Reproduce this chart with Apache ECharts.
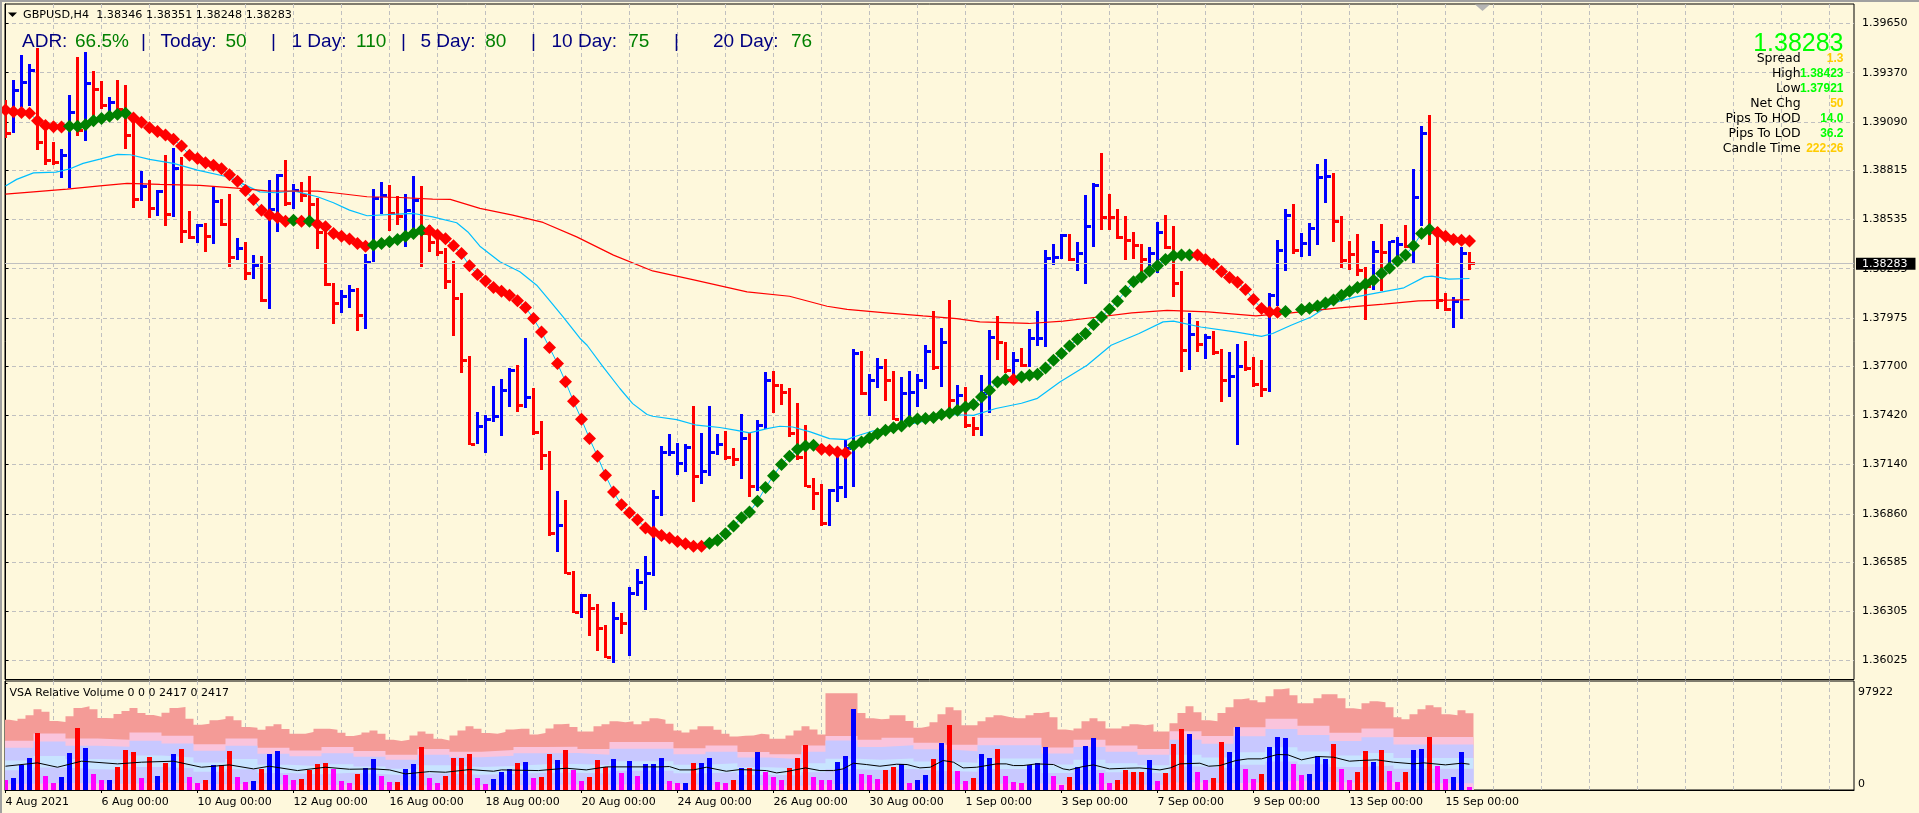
<!DOCTYPE html>
<html>
<head>
<meta charset="utf-8">
<title>GBPUSD,H4</title>
<style>html,body{margin:0;padding:0;background:#FEF8DC}#c{width:1919px;height:813px}</style>
<script src="https://cdn.jsdelivr.net/npm/echarts@6/dist/echarts.min.js"></script>
</head>
<body>
<div id="c"></div>
<script>
const highs = [1.39214,1.39328,1.39471,1.39420,1.39509,1.39084,1.38977,1.38935,1.39243,1.39461,
1.39490,1.39380,1.39323,1.39230,1.39328,1.39300,1.39139,1.38810,1.38759,1.38702,
1.38901,1.38943,1.38892,1.38582,1.38508,1.38516,1.38721,1.38651,1.38679,1.38427,
1.38404,1.38332,1.38326,1.38759,1.38793,1.38873,1.38736,1.38746,1.38782,1.38655,
1.38474,1.38172,1.38132,1.38161,1.38144,1.38337,1.38708,1.38748,1.38730,1.38668,
1.38679,1.38782,1.38725,1.38503,1.38417,1.38370,1.38298,1.38115,1.37757,1.37438,
1.37425,1.37586,1.37626,1.37688,1.37705,1.37859,1.37573,1.37386,1.37216,1.36988,
1.36937,1.36532,1.36401,1.36405,1.36344,1.36225,1.36357,1.36293,1.36443,1.36544,
1.36618,1.36993,1.37244,1.37316,1.37263,1.37255,1.37472,1.37320,1.37472,1.37312,
1.37329,1.37233,1.37426,1.37320,1.37392,1.37665,1.37671,1.37601,1.37578,1.37493,
1.37364,1.37066,1.37028,1.37003,1.37212,1.37288,1.37800,1.37787,1.37654,1.37749,
1.37743,1.37671,1.37639,1.37673,1.37654,1.37819,1.38015,1.37918,1.38076,1.37591,
1.37582,1.37411,1.37648,1.37905,1.37984,1.37838,1.37778,1.37804,1.37910,1.38013,
1.38360,1.38394,1.38451,1.38451,1.38404,1.38673,1.38740,1.38914,1.38679,1.38592,
1.38554,1.38463,1.38398,1.38377,1.38520,1.38560,1.38497,1.38241,1.38000,1.37956,
1.37882,1.37899,1.37796,1.37779,1.37829,1.37842,1.37753,1.37734,1.38114,1.38417,
1.38594,1.38622,1.38459,1.38512,1.38850,1.38879,1.38797,1.38554,1.38412,1.38455,
1.38262,1.38412,1.38508,1.38413,1.38434,1.38503,1.38822,1.39066,1.39129,1.38493,
1.38119,1.38094,1.38379,1.38351];
const lows = [1.38996,1.39025,1.39176,1.39180,1.38926,1.38844,1.38844,1.38772,1.38712,1.39009,
1.38981,1.39101,1.39162,1.39140,1.39148,1.38935,1.38601,1.38639,1.38544,1.38554,
1.38497,1.38550,1.38402,1.38423,1.38402,1.38351,1.38398,1.38499,1.38265,1.38303,
1.38185,1.38193,1.38066,1.38023,1.38464,1.38611,1.38592,1.38635,1.38550,1.38364,
1.38155,1.37939,1.38003,1.38032,1.37901,1.37912,1.38294,1.38565,1.38470,1.38503,
1.38379,1.38474,1.38265,1.38349,1.38326,1.38138,1.37871,1.37661,1.37250,1.37255,
1.37206,1.37382,1.37303,1.37468,1.37438,1.37462,1.37307,1.37107,1.36732,1.36642,
1.36515,1.36295,1.36266,1.36168,1.36078,1.36037,1.36010,1.36173,1.36048,1.36392,
1.36310,1.36504,1.36845,1.37193,1.37079,1.37096,1.36927,1.37028,1.37073,1.37193,
1.37164,1.37130,1.37056,1.36955,1.36988,1.37339,1.37434,1.37483,1.37301,1.37168,
1.37009,1.36885,1.36790,1.36790,1.36927,1.36950,1.37012,1.37534,1.37417,1.37576,
1.37502,1.37392,1.37354,1.37403,1.37468,1.37569,1.37681,1.37582,1.37459,1.37438,
1.37351,1.37303,1.37303,1.37430,1.37734,1.37660,1.37637,1.37696,1.37696,1.37815,
1.37810,1.38275,1.38309,1.38299,1.38237,1.38167,1.38373,1.38474,1.38474,1.38421,
1.38303,1.38307,1.38237,1.38228,1.38228,1.38364,1.38094,1.37667,1.37673,1.37781,
1.37739,1.37762,1.37496,1.37525,1.37255,1.37673,1.37582,1.37525,1.37548,1.38041,
1.38241,1.38337,1.38322,1.38322,1.38389,1.38630,1.38407,1.38259,1.38246,1.38214,
1.37962,1.38132,1.38128,1.38235,1.38286,1.38370,1.38288,1.38497,1.38389,1.38024,
1.38015,1.37916,1.37969,1.38248];
const closes = [1.39025,1.39271,1.39313,1.39385,1.38971,1.38873,1.38860,1.38897,1.39142,1.39040,
1.39306,1.39275,1.39182,1.39201,1.39162,1.39015,1.38649,1.38721,1.38598,1.38692,
1.38565,1.38826,1.38464,1.38433,1.38499,1.38436,1.38635,1.38508,1.38319,1.38370,
1.38228,1.38275,1.38076,1.38592,1.38787,1.38626,1.38698,1.38673,1.38622,1.38461,
1.38167,1.38054,1.38094,1.38128,1.37986,1.38288,1.38655,1.38673,1.38569,1.38550,
1.38584,1.38645,1.38457,1.38406,1.38345,1.38180,1.38085,1.37730,1.37255,1.37354,
1.37399,1.37415,1.37563,1.37677,1.37474,1.37519,1.37320,1.37193,1.36750,1.36796,
1.36519,1.36300,1.36395,1.36320,1.36206,1.36044,1.36266,1.36234,1.36405,1.36471,
1.36522,1.36955,1.37206,1.37206,1.37149,1.37240,1.37075,1.37103,1.37206,1.37255,
1.37183,1.37168,1.37288,1.37018,1.37364,1.37620,1.37591,1.37548,1.37316,1.37180,
1.37018,1.36978,1.36804,1.36993,1.37012,1.37233,1.37772,1.37544,1.37616,1.37690,
1.37616,1.37398,1.37544,1.37553,1.37616,1.37781,1.37690,1.37832,1.37506,1.37534,
1.37360,1.37345,1.37544,1.37863,1.37835,1.37673,1.37734,1.37705,1.37857,1.37857,
1.38313,1.38319,1.38446,1.38309,1.38341,1.38493,1.38730,1.38546,1.38546,1.38430,
1.38417,1.38385,1.38307,1.38341,1.38459,1.38373,1.38171,1.37791,1.37882,1.37823,
1.37866,1.37775,1.37620,1.37644,1.37701,1.37687,1.37595,1.37567,1.38100,1.38360,
1.38556,1.38360,1.38398,1.38484,1.38772,1.38782,1.38525,1.38299,1.38337,1.38246,
1.38155,1.38351,1.38345,1.38407,1.38393,1.38379,1.38658,1.39025,1.38474,1.38072,
1.38024,1.38070,1.38341,1.38283];
const risingBars = [1,2,3,7,8,10,13,17,19,21,24,26,29,31,33,34,36,42,43,45,46,47,50,51,59,60,61,62,63,65,69,72,76,78,79,80,81,82,83,84,85,87,88,89,92,94,95,103,104,105,106,108,109,112,113,114,115,117,119,122,123,126,128,129,130,131,132,134,135,136,143,144,148,150,153,154,158,159,160,162,163,164,165,171,173,174,176,177,181,182];

const trendLine = [1.39158,1.39148,1.39144,1.39139,1.39097,1.39070,1.39062,1.39061,1.39066,1.39066,
1.39074,1.39097,1.39110,1.39122,1.39133,1.39139,1.39112,1.39088,1.39057,1.39036,
1.39015,1.38991,1.38953,1.38901,1.38882,1.38857,1.38844,1.38823,1.38789,1.38753,
1.38700,1.38649,1.38588,1.38560,1.38546,1.38525,1.38531,1.38525,1.38525,1.38508,
1.38493,1.38455,1.38440,1.38423,1.38398,1.38383,1.38389,1.38398,1.38408,1.38421,
1.38440,1.38455,1.38474,1.38470,1.38446,1.38425,1.38385,1.38341,1.38271,1.38222,
1.38184,1.38148,1.38127,1.38104,1.38072,1.38034,1.37971,1.37895,
1.37806,1.37715,1.37612,1.37500,1.37398,1.37288,1.37187,1.37079,1.36984,1.36912,1.36866,1.36826,1.36779,1.36756,1.36737,1.36722,1.36703,1.36690,1.36675,1.36675,
1.36693,1.36709,1.36747,1.36790,1.36838,1.36870,1.36931,1.37009,1.37077,1.37140,1.37187,1.37227,1.37246,1.37250,
1.37227,1.37221,1.37212,1.37206,
1.37250,1.37269,1.37291,1.37316,1.37335,1.37350,
1.37360,1.37386,1.37400,1.37402,1.37408,1.37425,1.37434,1.37449,1.37468,1.37482,1.37525,1.37563,1.37610,1.37624,1.37624,1.37639,1.37648,1.37654,1.37690,1.37734,
1.37772,1.37815,1.37853,1.37886,1.37937,1.37980,1.38024,1.38070,1.38127,1.38180,1.38208,1.38241,1.38271,1.38307,1.38328,1.38332,1.38332,
1.38332,1.38307,1.38280,1.38239,1.38205,1.38178,1.38136,1.38079,1.38028,1.38009,1.38007,
1.38011,null,1.38023,1.38030,1.38043,1.38060,1.38076,1.38104,1.38127,1.38148,1.38167,1.38189,1.38227,1.38259,1.38298,1.38332,1.38385,1.38455,1.38478,
1.38461,1.38440,1.38421,1.38417,1.38412];
const trendGreenRanges = [[8,15],[36,36],[38,38],[46,52],[88,101],[106,125],[127,148],[160,178]];

const blueMaBars = [0,1.4,3.5,6.3,8,9.7,11.8,14,15.6,18,21,24,27.7,29.7,31.8,33.9,36,39,41,43,45.2,48.4,51,53.4,56.4,57.8,59.3,61.8,64.3,66.4,68,69.7,71.8,72.7,74.7,76.8,78.4,80.2,80.9,83.9,86.4,89.3,91.4,93,95.2,96.8,98.4,100.6,103,105.2,106,108.4,111.4,114.7,117.7,121,123.8,127,129,131.8,135.2,138.2,141.7,144.7,146,149.4,153.7,157,158.4,160.7,163.2,165.8,168.8,174.8,177.4,178.3,180.4,183];
const blueMa = [1.38725,1.38763,1.38800,1.38804,1.38822,1.38854,1.38878,1.38905,1.38903,1.38877,1.38854,1.38816,1.38778,1.38736,1.38692,1.38687,1.38698,1.38664,1.38630,1.38588,1.38556,1.38564,1.38569,1.38550,1.38516,1.38464,1.38383,1.38294,1.38237,1.38161,1.38075,1.37980,1.37859,1.37819,1.37696,1.37573,1.37487,1.37425,1.37415,1.37396,1.37364,1.37351,1.37335,1.37320,1.37345,1.37358,1.37354,1.37326,1.37288,1.37282,1.37297,1.37331,1.37354,1.37386,1.37425,1.37420,1.37459,1.37489,1.37517,1.37610,1.37705,1.37819,1.37886,1.37952,1.37956,1.37923,1.37895,1.37870,1.37886,1.37933,1.37980,1.38057,1.38094,1.38146,1.38208,1.38212,1.38195,1.38199];
const redMaBars = [0,3.5,7.7,11.8,15.2,19.3,24.3,29.3,32.7,39,41,45.2,49.3,53.4,55.6,59.3,63.4,67.2,71.4,76,80.9,85.9,92.7,98,102.7,105.2,109.7,114.7,118.9,121.8,127.9,132.2,136.6,140.8,145.2,150.3,156.3,160.7,166.7,172.3,176.6,183];
const redMa = [1.38679,1.38692,1.38708,1.38726,1.38740,1.38734,1.38729,1.38712,1.38698,1.38696,1.38687,1.38664,1.38660,1.38651,1.38649,1.38598,1.38560,1.38518,1.38436,1.38332,1.38242,1.38193,1.38123,1.38098,1.38041,1.38023,1.38005,1.37986,1.37971,1.37952,1.37943,1.37956,1.37980,1.38003,1.38017,1.38009,1.37986,1.38003,1.38032,1.38053,1.38072,1.38079];

const priceTicks = [1.36025,1.36305,1.36585,1.36860,1.37140,1.37420,1.37700,1.37975,1.38255,1.38535,1.38815,1.39090,1.39370,1.39650];
const lastPrice = 1.38283;
const timeLabels = ['4 Aug 2021','6 Aug 00:00','10 Aug 00:00','12 Aug 00:00','16 Aug 00:00','18 Aug 00:00','20 Aug 00:00','24 Aug 00:00','26 Aug 00:00','30 Aug 00:00','1 Sep 00:00','3 Sep 00:00','7 Sep 00:00','9 Sep 00:00','13 Sep 00:00','15 Sep 00:00'];
const barsPerLabel = 12, barsPerGridLine = 6, rowsOfBars = 184;

const volumes = [9502,11341,23294,29731,51799,13180,6743,12260,33409,56396,
38006,15019,9502,9502,21455,36167,34328,11341,30650,13180,
25133,32489,37087,12260,6743,9502,23294,23294,35248,12260,
7663,8582,19616,32489,35248,14099,9502,10421,18697,24214,
25133,19616,8582,6743,15019,20536,28811,13180,7663,7663,
19616,24214,38926,11341,6743,13180,29731,29731,32489,11341,
5824,10421,16858,19003,25133,26053,11341,12260,32489,27892,
36167,18697,8582,12260,27892,20842,28811,15938,26972,13180,
24214,24214,29731,8582,6743,6743,25133,25133,29731,7663,
6743,9502,20536,20536,34328,16858,12260,9502,20536,29731,
40765,12260,9502,9502,26053,31570,73867,15019,14099,10421,
18697,21455,23907,6743,9502,14099,28811,42604,59155,17777,
8582,11341,32489,29731,37087,13180,7663,6743,23294,25133,
38926,13180,4904,12260,21455,39845,47201,15938,6743,9502,
18697,16858,16858,27892,8582,15938,41684,55477,50879,16858,
9502,11341,43523,34328,57316,19616,10421,15019,38926,48121,
47201,24214,14099,15019,31570,28811,41684,19616,9502,16858,
35248,26053,36167,17777,7663,16858,36167,37087,48121,22375,
10421,12260,34328,2417];
const volumeKinds = ('mbbbrmmbbr'+'bmmbrrrmrb'+'rbrmmrbrrm'+'mbrbbmmrrr'+'rmmmrbbmmr'+'bbrmmrrrrm'+'mbbbrbmrrb'+'rmmrrrbmbm'+'bbbmmbrbbm'+'mrbrbmmmrr'+'rmmmbbbmmm'+'rrbmbbrbrm'+'mrbbrmmmbb'+'bmmrbbbmmr'+'rrrbmrrrbm'+'mrrbbmmrbb'+'bmmbbbrmmr'+'rbrmmrbbrm'+'mbbm').split('');

const salmonTop = [64365,63139,65285,68350,73867,71721,63139,62220,67430,75093,76625,73867,65898,65591,69576,72334,75093,70495,68656,67124,70802,75093,76012,65285,59768,60687,63752,64978,67430,63752,57622,57009,55170,58235,60074,55783,51492,51492,53025,56090,56090,55170,52412,49347,50879,52718,54557,51492,45975,44749,45975,49960,53638,51492,46895,45362,49960,54557,58235,56090,52105,51492,
53025,55477,56090,56090,50879,52105,56396,60074,60687,57622,53638,53638,58235,60074,62833,61913,62833,60074,62833,65591,64365,60687,54557,52718,55477,58235,58235,55170,51492,49040,49653,49960,51492,50879,46895,46895,49960,54557,58235,55477,50879,
88579,88579,88579,88579,70495,65591,64672,65285,68350,68350,63139,57009,58235,61913,69269,75706,72947,59155,59155,62833,66511,68350,
66817,65591,65591,68350,70495,71721,66511,55477,54557,56396,62833,65591,62833,56396,56396,58235,60074,59155,60074,53638,53638,60994,70495,76625,71108,63752,62833,70495,75706,83062,83981,82142,80303,85820,92257,93176,86740,79384,79384,83981,87659,87659,83981,74786,73867,79384,81223,80303,75706,66511,64672,69269,73867,77545,75706,69269,68350,72947,70189];

const bandBars = [0,4,8,12,16,20,24,28,32,36,40,44,48,52,56,60,64,68,72,76,80,84,88,92,96,100,103,107,110,114,118,122,126,130,134,138,142,146,150,154,158,162,166,170,174,178];
const pinkTop = [45100,51700,47200,46100,52600,49600,41800,47200,38600,36100,39300,35600,32200,37600,35000,36500,39300,39500,37600,44000,44000,38200,40800,34800,32800,40800,49400,45900,47900,43300,41400,47900,47900,38800,45900,40800,37600,53700,49400,57500,65200,58800,52400,56200,48500,48500];
const lavenderTop = [38600,44300,40500,39600,45100,42500,35900,40500,33100,30900,33700,30500,27600,32200,30000,31300,33700,33900,32200,37700,37700,32800,35000,29800,28200,35000,45400,39400,41000,37200,35500,41000,41000,33300,39400,35000,32200,46000,42300,49300,55900,50400,44900,48200,41600,41600];
const paleBlueTop = [27100,31100,28400,27700,31600,29800,25200,28400,23200,21700,23600,21400,19400,22600,21000,21900,23600,23700,22600,26400,26400,23000,24500,20900,19700,24500,28500,27600,28800,26100,24900,28800,28800,23300,27600,24500,22600,32300,29700,34600,39200,35300,31500,33800,29200,29200];
const paleBlueBottom = [18100,20700,18900,18500,21100,19900,16800,18900,15500,14400,15700,14300,12900,15100,14000,14600,15700,15800,15100,17600,17600,15300,16300,13900,13200,16300,19000,18400,19200,17400,16600,19200,19200,15600,18400,16300,15100,21500,19800,23000,26100,23600,21000,22500,19400,19400];
const pinkBase = [5700,6500,5900,5800,6600,6200,5300,5900,4900,4500,4900,4500,4100,4700,4400,4600,4900,5000,4700,5500,5500,4800,5100,4400,4100,5100,6000,5800,6000,5500,5200,6000,6000,4900,5800,5100,4700,6800,6200,7200,8200,7400,6600,7100,6100,6100];

const averageBars = [0,4,6.5,9.5,14,17,21,24.5,28,31,33,36.5,40,43,46,48,50,53,55,58,61,62,66.6,70.1,72.6,75.1,81.8,83,84.3,86,87.6,90.1,91.8,95.1,96.4,97.6,100,101.8,103.5,104.7,106,107.6,109.3,111.4,112.7,114.3,115.6,117.2,118.5,119.7,121.4,123.9,125.1,126,127.2,128.9,131,132.2,133,134.7,136,138,140.1,141.8,144.3,145.6,146.8,149.3,150.4,151.8,153.8,155.3,157,159,160.3,162,164,166,168,169.3,171.4,173.5,176,177.3,180,182,183];
const averageVolume = [21762,24827,20842,26359,23907,25440,26359,20842,22988,19310,21762,17777,20842,19003,19310,18390,14712,16858,16245,18697,17164,18390,17777,19923,18390,21149,21149,21455,18390,18390,20842,17164,18697,17777,15632,16858,20229,17777,17777,19310,24520,23294,21762,23601,23294,20229,20842,26972,25440,20229,20842,23907,23907,22375,22375,23907,23294,19310,18390,21455,22988,19310,19923,20229,18390,20229,23907,24520,21762,22375,26972,28505,28505,32489,32183,27585,30650,30037,26359,26972,27585,25440,23907,24827,22988,24520,23601];
const volumeTicks = [0, 97922];

for (const [n,a] of Object.entries({highs,lows,closes,trendLine,volumes,volumeKinds,salmonTop}))
  if (a.length !== rowsOfBars) throw new Error(n+' has '+a.length);
for (const [n,a] of Object.entries({pinkTop,lavenderTop,paleBlueTop,paleBlueBottom,pinkBase}))
  if (a.length !== bandBars.length) throw new Error(n+' has '+a.length);

const GRID = '#C0C0C0', PAN = {left:5, width:1849};
const XMIN = -0.06, XMAX = 231.065;
const range = (step, end) => { const r=[]; for(let i=0;i<=end;i+=step) r.push(i); return r; };
const gridLineBars = range(barsPerGridLine, 231).slice(1);
const labelBars = timeLabels.map((_, k) => k*barsPerLabel);
const AXFONT = {fontFamily:'DejaVu Sans', fontSize:11, color:'#000'};
const risingSet = new Set(risingBars);
const isGreen = i => trendGreenRanges.some(([a,b]) => i>=a && i<=b);
const volColors = {m:'#FF00FF', b:'#0000FF', r:'#FF0000'};
const allBars = Array.from(salmonTop.keys());

function renderBar(params, api) {
  const i = api.value(0);
  const [x, yh] = api.coord([i, api.value(1)]);
  const [, yl] = api.coord([i, api.value(2)]);
  const [, yc] = api.coord([i, api.value(3)]);
  const fill = risingSet.has(i) ? '#0000FF' : '#FF0000';
  const left = Math.round(x - 1.5);
  return {type:'group', children:[
    {type:'rect', shape:{x:left, y:Math.round(yh), width:3, height:Math.max(1,Math.round(yl-yh))}, style:{fill}},
    {type:'rect', shape:{x:left+3, y:Math.round(yc-1.5), width:4, height:3}, style:{fill}}
  ]};
}
function renderVolume(params, api) {
  const i = api.value(0);
  const [x, y] = api.coord([i, api.value(1)]);
  const [, y0] = api.coord([i, 0]);
  const left = Math.round(x - 2.5);
  return {type:'rect', shape:{x:left, y:Math.round(y), width:5, height:Math.round(y0)-Math.round(y)}, style:{fill:volColors[volumeKinds[i]]}};
}
const stepped = (name, bars, vals, color) => ({
  name, type:'line', xAxisIndex:1, yAxisIndex:1, step:'end', symbol:'none', silent:true, z:1,
  lineStyle:{width:0}, areaStyle:{color, opacity:1},
  data: bars.map((b,k)=>[b-0.5, vals[k]]).concat([[rowsOfBars-0.5, vals[vals.length-1]]])
});

const texts = [];
const T = (x,y,text,fill,size,opt={}) => texts.push({type:'text', x, y, z:100, silent:true, style:{
  text, fill, font:`${opt.weight||'normal'} ${size}px "${opt.family||'Liberation Sans'}"`,
  textAlign:opt.align||'left', textVerticalAlign:'middle', align:opt.align||'left', verticalAlign:'middle'}});

const NAVY='#000080', GREEN='#008000';
[[22,'ADR:',NAVY],[75,'66.5%',GREEN],[141,'|',NAVY],[160.5,'Today:',NAVY],[225.5,'50',GREEN],[271,'|',NAVY],[291.5,'1 Day:',NAVY],[356,'110',GREEN],[401,'|',NAVY],[420.5,'5 Day:',NAVY],[485.3,'80',GREEN],[531,'|',NAVY],[551.5,'10 Day:',NAVY],[628.3,'75',GREEN],[674,'|',NAVY],[713,'20 Day:',NAVY],[791,'76',GREEN]]
  .forEach(([x,t,c]) => T(x,42,t,c,19));
T(23,15,'GBPUSD,H4  1.38346 1.38351 1.38248 1.38283','#000',11.2,{family:'DejaVu Sans'});
T(9.5,693,'VSA Relative Volume 0 0 0 2417 0 2417','#000',11,{family:'DejaVu Sans'});
T(1843.5,44,'1.38283','#00FF00',25,{align:'right'});
const LIME='#00FF00', GOLD='#FFCC00';
[['Spread','1.3',GOLD],['High','1.38423',LIME],['Low','1.37921',LIME],['Net Chg','50',GOLD],['Pips To HOD','14.0',LIME],['Pips To LOD','36.2',LIME],['Candle Time','222:26',GOLD]]
  .forEach(([a,b,c],k)=>{ T(1800.7,58.5+15*k,a,'#000',12.5,{align:'right',family:'DejaVu Sans'}); T(1843.5,58.5+15*k,b,c,12,{align:'right',weight:'bold'}); });

const chromeShapes = [
  {type:'rect', shape:{x:0,y:0,width:1919,height:2}, style:{fill:'#A0A0A0'}, z:90, silent:true},
  {type:'rect', shape:{x:0,y:0,width:2,height:813}, style:{fill:'#A0A0A0'}, z:90, silent:true},
  {type:'polygon', shape:{points:[[8,12.5],[17,12.5],[12.5,17]]}, style:{fill:'#000'}, z:90, silent:true},
  {type:'polygon', shape:{points:[[1475,4.5],[1490,4.5],[1482.5,11]]}, style:{fill:'#B4B4B4'}, z:90, silent:true}
];

const option = {
  animation:false,
  backgroundColor:'#FEF8DC',
  grid:[
    {left:PAN.left, width:PAN.width, top:4, height:675.5, show:true, borderColor:'#000', borderWidth:1, backgroundColor:'transparent'},
    {left:PAN.left, width:PAN.width, top:681, height:109, show:true, borderColor:'#000', borderWidth:1, backgroundColor:'transparent'}
  ],
  xAxis:[
    {type:'value', gridIndex:0, min:XMIN, max:XMAX, axisLine:{show:false}, axisLabel:{show:false},
     axisTick:{show:false, customValues:gridLineBars},
     splitLine:{show:true, lineStyle:{color:GRID, type:[4,3], width:1}}},
    {type:'value', gridIndex:1, min:XMIN, max:XMAX, position:'bottom',
     axisLine:{show:true, lineStyle:{color:'#000'}},
     axisTick:{show:true, length:3, lineStyle:{color:'#000'}, customValues:labelBars},
     axisLabel:{show:true, customValues:labelBars, align:'left', margin:7, ...AXFONT,
       formatter:v=>timeLabels[Math.round(v/barsPerLabel)]},
     splitLine:{show:false}},
    {type:'value', gridIndex:1, min:XMIN, max:XMAX, position:'top', axisLine:{show:false}, axisLabel:{show:false},
     axisTick:{show:false, customValues:gridLineBars},
     splitLine:{show:true, lineStyle:{color:GRID, type:[4,3], width:1}}}
  ],
  yAxis:[
    {type:'value', gridIndex:0, position:'right', min:1.35917, max:1.39761,
     axisLine:{show:true, lineStyle:{color:'#000'}},
     axisTick:{show:true, length:3, inside:false, lineStyle:{color:'#000'}, customValues:priceTicks},
     axisLabel:{customValues:priceTicks, margin:8, ...AXFONT, formatter:v=>v.toFixed(5)},
     splitLine:{show:true, lineStyle:{color:GRID, type:[4,3], width:1}}},
    {type:'value', gridIndex:1, position:'right', min:0, max:99752,
     axisLine:{show:true, lineStyle:{color:'#000'}},
     axisTick:{show:true, length:2, lineStyle:{color:'#000'}, customValues:volumeTicks},
     axisLabel:{customValues:volumeTicks, margin:4, ...AXFONT, verticalAlign:'middle',
       verticalAlignMinLabel:'bottom', verticalAlignMaxLabel:'top',
       rich:{top:{padding:[4,0,0,0], ...AXFONT}},
       formatter:v=> v>0 ? '{top|'+v+'}' : String(v)},
     splitLine:{show:false}}
  ],
  graphic:{elements:chromeShapes.concat(texts)},
  series:[
    {name:'Bars', type:'custom', xAxisIndex:0, yAxisIndex:0, clip:true, z:3, renderItem:renderBar, silent:true,
     encode:{x:0, y:[1,2,3]}, data:closes.map((c,i)=>[i, highs[i], lows[i], c])},
    {name:'Blue MA', type:'line', xAxisIndex:0, yAxisIndex:0, symbol:'none', z:4, silent:true,
     lineStyle:{color:'#00BFFF', width:1.2}, data:blueMaBars.map((b,k)=>[b, blueMa[k]])},
    {name:'Red MA', type:'line', xAxisIndex:0, yAxisIndex:0, symbol:'none', z:4, silent:true,
     lineStyle:{color:'#FF0000', width:1.2}, data:redMaBars.map((b,k)=>[b, redMa[k]])},
    {name:'Trend line', type:'line', xAxisIndex:0, yAxisIndex:0, symbol:'none', z:4, silent:true, connectNulls:false,
     lineStyle:{color:'#00BFFF', width:1}, data:trendLine.map((v,i)=>[i, v])},
    {name:'Trend', type:'scatter', xAxisIndex:0, yAxisIndex:0, symbol:'diamond', symbolSize:13, z:5, silent:true, clip:true,
     itemStyle:{color:p=>isGreen(p.value[0])?'#008000':'#FF0000', opacity:1},
     data:trendLine.map((v,i)=>[i, v]).filter(d=>d[1]!==null),
     markLine:{silent:true, symbol:'none', animation:false, precision:5,
       lineStyle:{color:'#C0C0C0', type:'solid', width:1},
       label:{position:'end', distance:2, backgroundColor:'#000', color:'#FFF', padding:[1,8,0,6], fontFamily:'DejaVu Sans', fontSize:11,
         formatter:p=>p.value.toFixed(5)},
       data:[{yAxis:lastPrice}]}},
    stepped('Upper', allBars, salmonTop, '#F49B97'),
    stepped('Pink', bandBars, pinkTop, '#FAC4DC'),
    stepped('Lavender', bandBars, lavenderTop, '#C8C8FF'),
    stepped('Pale blue', bandBars, paleBlueTop, '#C8E4FF'),
    stepped('Lavender lower', bandBars, paleBlueBottom, '#C8C8FF'),
    stepped('Pink base', bandBars, pinkBase, '#FAC4E8'),
    {name:'Volume', type:'custom', xAxisIndex:1, yAxisIndex:1, clip:true, z:3, renderItem:renderVolume, silent:true,
     encode:{x:0, y:1}, data:volumes.map((v,i)=>[i, v])},
    {name:'Average', type:'line', xAxisIndex:1, yAxisIndex:1, symbol:'none', z:4, silent:true,
     lineStyle:{color:'#000', width:1}, data:averageBars.map((b,k)=>[b, averageVolume[k]])}
  ]
};
echarts.init(document.getElementById('c'), null, {renderer:'canvas'}).setOption(option);
</script>
</body>
</html>
